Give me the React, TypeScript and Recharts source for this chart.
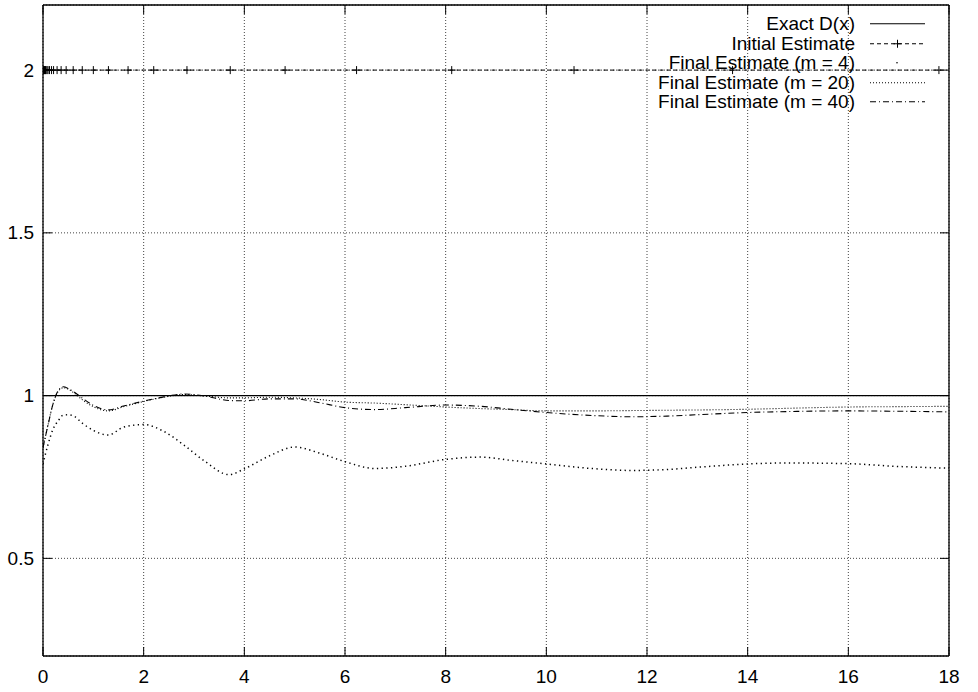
import { CartesianGrid, Legend, Line, LineChart, XAxis, YAxis } from 'recharts';

const X_TICKS = [0, 2, 4, 6, 8, 10, 12, 14, 16, 18];
const Y_TICKS = [0.5, 1, 1.5, 2];

// shared sample positions for the three final estimates
const SAMPLE_X = [
  0, 0.1, 0.2, 0.3, 0.4, 0.5, 0.6, 0.8, 1.0, 1.3, 1.6, 2.0, 2.4, 2.8, 3.2, 3.7, 4.0, 4.5,
  5.0, 5.5, 6.0, 6.6, 7.2, 8.0, 8.7, 9.3, 10.0, 10.9, 11.7, 12.4, 13.1, 14.0, 14.8, 16.0,
  16.9, 18.0,
];
const M4_Y = [
  0.79, 0.85, 0.897, 0.922, 0.94, 0.941, 0.938, 0.913, 0.893, 0.879, 0.903, 0.911, 0.89,
  0.848, 0.8, 0.757, 0.775, 0.815, 0.842, 0.823, 0.797, 0.776, 0.783, 0.804, 0.811, 0.801,
  0.79, 0.776, 0.77, 0.773, 0.781, 0.79, 0.793, 0.791, 0.783, 0.777,
];
const M20_Y = [
  0.84, 0.91, 0.975, 1.012, 1.024, 1.02, 1.01, 0.985, 0.966, 0.953, 0.966, 0.982, 0.995,
  1.003, 0.999, 0.993, 0.993, 0.995, 0.993, 0.988, 0.98, 0.977, 0.972, 0.965, 0.96, 0.957,
  0.953, 0.953, 0.954, 0.955, 0.956, 0.958, 0.961, 0.965, 0.966, 0.967,
];
const M40_Y = [
  0.84, 0.91, 0.975, 1.015, 1.027, 1.022, 1.013, 0.99, 0.97, 0.956, 0.968, 0.983, 0.996,
  1.005, 0.999, 0.985, 0.984, 0.99, 0.99, 0.978, 0.963, 0.957, 0.963, 0.971, 0.967, 0.958,
  0.948, 0.939, 0.935, 0.937, 0.942, 0.948, 0.951, 0.953, 0.952, 0.95,
];

// initial estimate: constant 2 at the (unevenly spaced) nodes
const INITIAL_X = [
  0.01, 0.02, 0.03, 0.04, 0.05, 0.06, 0.08, 0.1, 0.13, 0.17, 0.21, 0.28, 0.36, 0.46, 0.6,
  0.78, 1.0, 1.3, 1.69, 2.2, 2.86, 3.72, 4.81, 6.23, 8.12, 10.55, 13.7, 17.8,
];
const INITIAL_VALUE = 2;
const EXACT_X = [0, 18];
const EXACT_VALUE = 1;

const SERIES_NAMES = [
  'Exact D(x)',
  'Initial Estimate',
  'Final Estimate (m = 4)',
  'Final Estimate (m = 20)',
  'Final Estimate (m = 40)',
];

const exactData = EXACT_X.map((x) => ({ x, y: EXACT_VALUE }));
const initialData = INITIAL_X.map((x) => ({ x, y: INITIAL_VALUE }));
const m4Data = SAMPLE_X.map((x, i) => ({ x, y: M4_Y[i] }));
const m20Data = SAMPLE_X.map((x, i) => ({ x, y: M20_Y[i] }));
const m40Data = SAMPLE_X.map((x, i) => ({ x, y: M40_Y[i] }));

const FONT = '"Liberation Sans", Arial, Helvetica, sans-serif';
const TICK_LEN = 9;

const BottomTick = ({ x, y, payload }: any) => (
  <g>
    <line x1={x} y1={y} x2={x} y2={y - TICK_LEN} stroke="#000" />
    <text x={x} y={y + 20} textAnchor="middle" dominantBaseline="central" fontSize={19} fontFamily={FONT} fill="#000">
      {payload.value}
    </text>
  </g>
);

const TopTick = ({ x, y }: any) => <line x1={x} y1={y} x2={x} y2={y + TICK_LEN} stroke="#000" />;

const LeftTick = ({ x, y, payload }: any) => (
  <g>
    <line x1={x} y1={y} x2={x + TICK_LEN} y2={y} stroke="#000" />
    <text x={x - 9} y={y} textAnchor="end" dominantBaseline="central" fontSize={19} fontFamily={FONT} fill="#000">
      {payload.value}
    </text>
  </g>
);

const RightTick = ({ x, y }: any) => <line x1={x} y1={y} x2={x - TICK_LEN} y2={y} stroke="#000" />;

const PlusDot = ({ cx, cy }: any) => (
  <path d={`M${cx - 4},${cy}h8M${cx},${cy - 4}v8`} stroke="#000" strokeWidth={1} fill="none" />
);

const SAMPLE_STYLE: Record<string, { dash?: string; plus?: boolean; dotOnly?: boolean }> = {
  'Exact D(x)': {},
  'Initial Estimate': { dash: '4 3', plus: true },
  'Final Estimate (m = 4)': { dotOnly: true },
  'Final Estimate (m = 20)': { dash: '1 2' },
  'Final Estimate (m = 40)': { dash: '6 3 1 3' },
};

const LegendBox = ({ payload }: any) => {
  const rows = [...(payload || [])].sort(
    (a: any, b: any) => SERIES_NAMES.indexOf(a.value) - SERIES_NAMES.indexOf(b.value),
  );
  return (
    <div style={{ fontFamily: FONT, fontSize: 19, color: '#000' }}>
      {rows.map((entry: any) => {
        const s = SAMPLE_STYLE[entry.value] || {};
        return (
          <div key={entry.value} style={{ display: 'flex', alignItems: 'center', height: 19.5 }}>
            <span style={{ width: 215, textAlign: 'right', whiteSpace: 'nowrap', lineHeight: '19.5px' }}>
              {entry.value}
            </span>
            <svg width={72} height={19.5} style={{ display: 'block' }}>
              {s.dotOnly ? (
                <circle cx={42} cy={9.75} r={0.8} fill="#000" />
              ) : (
                <line x1={15} y1={9.75} x2={70} y2={9.75} stroke="#000" strokeWidth={1} strokeDasharray={s.dash} />
              )}
              {s.plus && <path d="M38.5,9.75h8M42.5,5.75v8" stroke="#000" strokeWidth={1} />}
            </svg>
          </div>
        );
      })}
    </div>
  );
};

export default function App() {
  return (
    <div style={{ position: 'absolute', left: 0, top: 0, background: '#fff' }}>
      <LineChart width={978} height={692} margin={{ top: 4, right: 28, bottom: 0, left: 0 }}>
        <CartesianGrid stroke="#444" strokeDasharray="1 2" />
        <XAxis
          dataKey="x"
          type="number"
          domain={[0, 18]}
          ticks={X_TICKS}
          allowDataOverflow
          height={36}
          tickSize={0}
          tickMargin={0}
          tickLine={false}
          tick={<BottomTick />}
          axisLine={{ stroke: '#000', strokeWidth: 1.3 }}
        />
        <XAxis
          xAxisId="top"
          orientation="top"
          dataKey="x"
          type="number"
          domain={[0, 18]}
          ticks={X_TICKS}
          allowDataOverflow
          height={1}
          tickSize={0}
          tickMargin={0}
          tickLine={false}
          tick={<TopTick />}
          axisLine={{ stroke: '#000', strokeWidth: 1.3 }}
        />
        <YAxis
          type="number"
          domain={[0.2, 2.2]}
          ticks={Y_TICKS}
          allowDataOverflow
          width={43}
          tickSize={0}
          tickMargin={0}
          tickLine={false}
          tick={<LeftTick />}
          axisLine={{ stroke: '#000', strokeWidth: 1.3 }}
        />
        <YAxis
          yAxisId="right"
          orientation="right"
          type="number"
          domain={[0.2, 2.2]}
          ticks={Y_TICKS}
          allowDataOverflow
          width={1}
          tickSize={0}
          tickMargin={0}
          tickLine={false}
          tick={<RightTick />}
          axisLine={{ stroke: '#000', strokeWidth: 1.3 }}
        />
        <Legend
          layout="horizontal"
          verticalAlign="middle"
          align="center"
          content={<LegendBox />}
          wrapperStyle={{ top: 14, left: 640, right: 'auto', width: 300 }}
        />
        <Line
          data={exactData}
          dataKey="y"
          xAxisId="top"
          yAxisId="right"
          name={SERIES_NAMES[0]}
          stroke="#000"
          strokeWidth={1.2}
          dot={false}
          isAnimationActive={false}
        />
        <Line
          data={initialData}
          dataKey="y"
          name={SERIES_NAMES[1]}
          stroke="#000"
          strokeWidth={1}
          strokeDasharray="4 3"
          dot={<PlusDot />}
          isAnimationActive={false}
        />
        <Line
          data={m4Data}
          dataKey="y"
          name={SERIES_NAMES[2]}
          type="monotone"
          stroke="#000"
          strokeWidth={1.5}
          strokeDasharray="1.3 3.4"
          dot={false}
          isAnimationActive={false}
        />
        <Line
          data={m20Data}
          dataKey="y"
          name={SERIES_NAMES[3]}
          type="monotone"
          stroke="#000"
          strokeWidth={1.1}
          strokeDasharray="1 2"
          dot={false}
          isAnimationActive={false}
        />
        <Line
          data={m40Data}
          dataKey="y"
          name={SERIES_NAMES[4]}
          type="monotone"
          stroke="#000"
          strokeWidth={1.1}
          strokeDasharray="6 3 1 3"
          dot={false}
          isAnimationActive={false}
        />
      </LineChart>
    </div>
  );
}
